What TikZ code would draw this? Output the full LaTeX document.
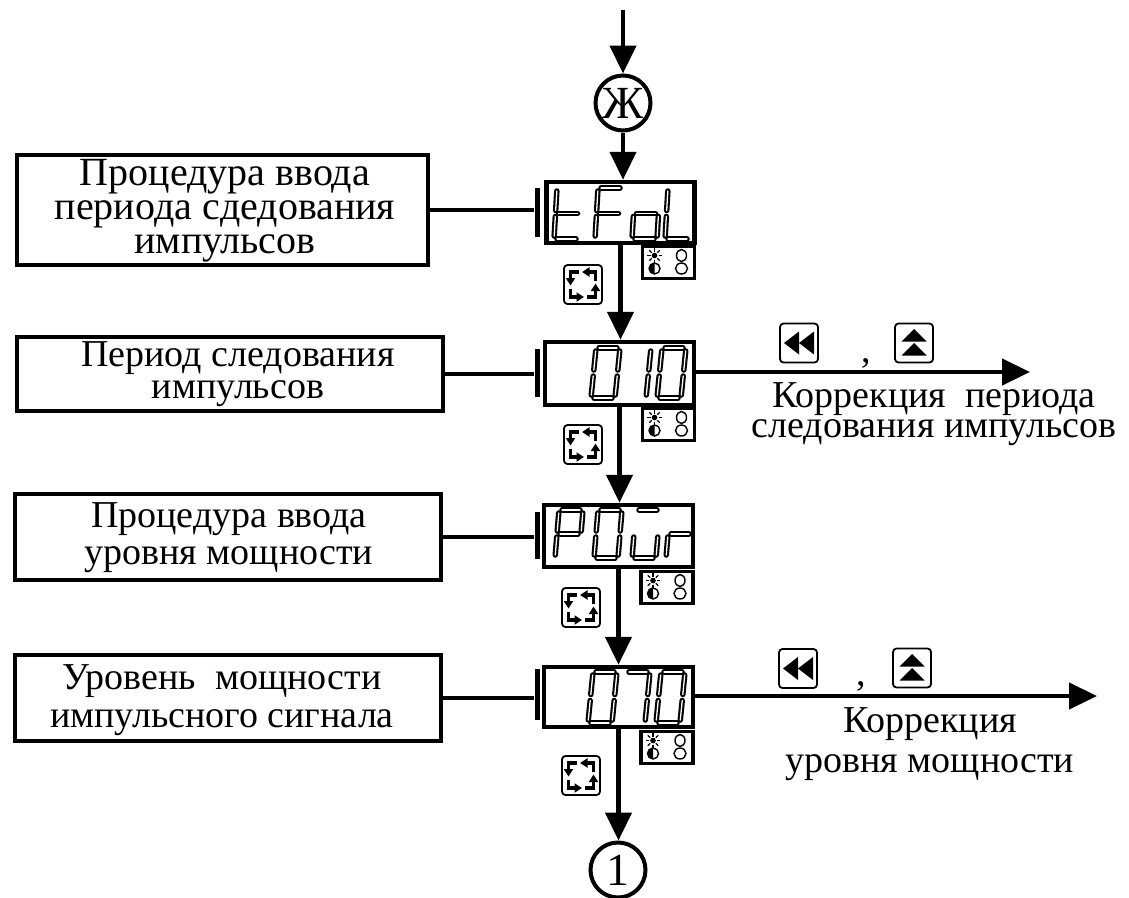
\documentclass[tikz,border=0pt]{standalone}
\usepackage{fontspec}
\newfontfamily\rus{Liberation Serif}
\usetikzlibrary{arrows.meta}
\def\dw{23}\def\dh{50}\def\ds{4}
\newcommand\segA{\draw[seg] (\ds,0) -- ({\ds+\dw},0);}
\newcommand\segB{\draw[seg] ({\ds+\dw},0) -- ({\ds/2+\dw},{\dh/2});}
\newcommand\segC{\draw[seg] ({\ds/2+\dw},{\dh/2}) -- (\dw,\dh);}
\newcommand\segD{\draw[seg] (0,\dh) -- (\dw,\dh);}
\newcommand\segE{\draw[seg] ({\ds/2},{\dh/2}) -- (0,\dh);}
\newcommand\segF{\draw[seg] (\ds,0) -- ({\ds/2},{\dh/2});}
\newcommand\segG{\draw[seg] ({\ds/2},{\dh/2}) -- ({\ds/2+\dw},{\dh/2});}
\newcommand\digit[3]{\begin{scope}[shift={(#1,#2)}]#3\end{scope}}
\newcommand\indic[1]{\begin{scope}[shift={(#1.center)}]
  \fill (-14,-7) circle (2.8pt);
  \foreach \a in {0,45,...,315} \draw[line width=1.3pt] (-14,-7) ++(\a:4pt) -- ++(\a:3.4pt);
  \draw[line width=1.4pt] (13,-7) ellipse (5pt and 6pt);
  \draw[line width=1.4pt] (-14,6) circle (5.5pt);
  \fill (-14,6) ++(90:5.5pt) arc (90:270:5.5pt) -- cycle;
  \draw[line width=1.4pt] (13,6) ellipse (6pt and 5.5pt);
\end{scope}}
\newcommand\cycglyph[1]{\begin{scope}[shift={(#1.center)}]
  \draw[gl] (12.5,-4) -- (12.5,-12.5) -- (-1,-12.5);
  \draw[gl] (-4,-12.5) -- (-12.5,-12.5) -- (-12.5,1);
  \draw[gl] (-12.5,4) -- (-12.5,12.5) -- (1,12.5);
  \draw[gl] (4,12.5) -- (12.5,12.5) -- (12.5,-1);
\end{scope}}
\newcommand\rewglyph[1]{\begin{scope}[shift={(#1.center)}]
  \fill (-15,0) -- (0,-11.5) -- (0,11.5) -- cycle;
  \fill (0,0) -- (15,-11.5) -- (15,11.5) -- cycle;
\end{scope}}
\newcommand\upglyph[1]{\begin{scope}[shift={(#1.center)}]
  \fill (0,-14) -- (12.5,-1.5) -- (-12.5,-1.5) -- cycle;
  \fill (0,0) -- (12.5,12.5) -- (-12.5,12.5) -- cycle;
\end{scope}}
\begin{document}
\begin{tikzpicture}[x=1pt,y=-1pt,
  box/.style={draw, line width=4.5pt, inner sep=0pt},
  ind/.style={draw, line width=3.8pt, inner sep=0pt, minimum width=52pt, minimum height=32pt},
  bar/.style={fill, inner sep=0pt, minimum width=5pt},
  arr/.style={line width=4.5pt, -{Triangle[length=28pt,width=26pt]}},
  ln/.style={line width=4.5pt},
  txt/.style={font=\fontsize{38}{33}\selectfont\rus, align=center, inner sep=0pt},
  seg/.style={line width=2.1pt, double=white, double distance=1.3pt, line cap=round, shorten <=3pt, shorten >=3pt},
  gl/.style={line width=3.3pt, -{Triangle[length=7.5pt,width=9pt]}},
  ibox/.style={draw, line width=1.8pt, rounded corners=3.5pt, minimum width=38pt, minimum height=39pt, inner sep=0pt},
  circ/.style={draw, circle, line width=4pt, minimum size=55pt, inner sep=0pt, font=\fontsize{46}{46}\selectfont\rus}
]
\useasboundingbox (0,0) rectangle (1129,897);

% top
\coordinate (top) at (623,10);
\node[circ] (zh) at (623,103) {Ж};
\draw[arr] (top) -- (zh.north);

% displays
\node[box, minimum width=148pt, minimum height=61pt] (d1) at (620.5,212.5) {};
\node[box, minimum width=149pt, minimum height=63pt] (d2) at (619.5,373.5) {};
\node[box, minimum width=149pt, minimum height=62pt] (d3) at (618.5,536) {};
\node[box, minimum width=149pt, minimum height=60pt] (d4) at (618.5,697) {};
\node[ind] (i1) at (668.5,262.5) {};
\node[ind] (i2) at (668.5,424.5) {};
\node[ind] (i3) at (667,587.5) {};
\node[ind] (i4) at (667,747.5) {};
\indic{i1}\indic{i2}\indic{i3}\indic{i4}

\draw[arr] (zh.south) -- (zh.south |- d1.north);

% digits display 1: tFoL
\def\dw{25}\def\dh{51}\def\ds{3}
\digit{554}{188}{\segF\segE\segG\segD}
\digit{595}{188}{\segA\segF\segE\segG}
\digit{632}{188}{\segG\segC\segD\segE}
\digit{665}{188}{\segF\segE\segD}
% display 2: 010
\def\dw{24}\def\dh{50}\def\ds{5}
\digit{591}{348}{\segA\segB\segC\segD\segE\segF}
\digit{622}{348}{\segB\segC}
\digit{657}{348}{\segA\segB\segC\segD\segE\segF}
% display 3: POur
\def\dw{24}\def\dh{48}\def\ds{4}
\digit{555}{510}{\segA\segB\segF\segG\segE}
\digit{594}{510}{\segA\segB\segC\segD\segE\segF}
\digit{632}{510}{\segA\segC\segD\segE}
\digit{666}{510}{\segG\segE}
% display 4: 070
\def\dw{24}\def\dh{51}\def\ds{5}
\digit{588}{672}{\segA\segB\segC\segD\segE\segF}
\digit{621}{672}{\segA\segB\segC}
\digit{656}{672}{\segA\segB\segC\segD\segE\segF}

% vertical arrows
\draw[arr] (d1.south) -- (d1.south |- d2.north);
\draw[arr] (d2.south) -- (d2.south |- d3.north);
\draw[arr] (d3.south) -- (d3.south |- d4.north);
\node[circ] (one) at (618,870) {1};
\draw[arr] (d4.south) -- (d4.south |- one.north);

% cycle icons
\node[ibox] (c1) at (583,284.5) {};
\node[ibox] (c2) at (583,444.5) {};
\node[ibox] (c3) at (581,607.5) {};
\node[ibox] (c4) at (581,775.5) {};
\cycglyph{c1}\cycglyph{c2}\cycglyph{c3}\cycglyph{c4}

% bars
\node[bar, minimum height=49pt] (b1) at (537,212.5) {};
\node[bar, minimum height=48pt] (b2) at (537,373) {};
\node[bar, minimum height=47pt] (b3) at (537,535.5) {};
\node[bar, minimum height=51pt] (b4) at (537,694.5) {};

% left boxes
\node[box, minimum width=411pt, minimum height=110pt] (l1) at (222.5,210) {};
\node[box, minimum width=426pt, minimum height=74pt] (l2) at (230,374) {};
\node[box, minimum width=426pt, minimum height=86pt] (l3) at (228,537) {};
\node[box, minimum width=426pt, minimum height=86pt] (l4) at (228,698) {};
\node[txt, font=\fontsize{40}{34}\selectfont\rus] (t1) at (225,211) {Процедура ввода\\периода сдедования\\импульсов};
\node[txt, font=\fontsize{38}{32}\selectfont\rus] (t2) at (238,374) {Период следования\\импульсов};
\node[txt, font=\fontsize{38}{37}\selectfont\rus] (t3) at (229,538) {Процедура ввода\\уровня мощности};
\node[txt, font=\fontsize{38}{38}\selectfont\rus] (t4) at (222,700) {Уровень~ мощности\\импульсного сигнала};
\draw[ln] (l1.east) -- (l1.east -| b1.west);
\draw[ln] (l2.east) -- (l2.east -| b2.west);
\draw[ln] (l3.east) -- (l3.east -| b3.west);
\draw[ln] (l4.east) -- (l4.east -| b4.west);

% right side 1
\coordinate (e2) at (1030,372);
\draw[arr] (d2.east |- e2) -- (e2);
\node[ibox] (k1) at (799,343) {};
\node[ibox] (u1) at (914,343) {};
\rewglyph{k1}\upglyph{u1}
\node[txt, anchor=base] (cm1) at (866,362) {,};
\node[txt, font=\fontsize{38}{30}\selectfont\rus] (r1) at (934,414) {Коррекция~ периода\\следования импульсов};

% right side 2
\coordinate (e4) at (1097,696);
\draw[arr] (d4.east |- e4) -- (e4);
\node[ibox] (k2) at (798,668.5) {};
\node[ibox] (u2) at (912,668) {};
\rewglyph{k2}\upglyph{u2}
\node[txt, anchor=base] (cm2) at (861,685) {,};
\node[txt, font=\fontsize{38}{40}\selectfont\rus] (r2) at (930,744) {Коррекция\\уровня мощности};
\end{tikzpicture}
\end{document}
